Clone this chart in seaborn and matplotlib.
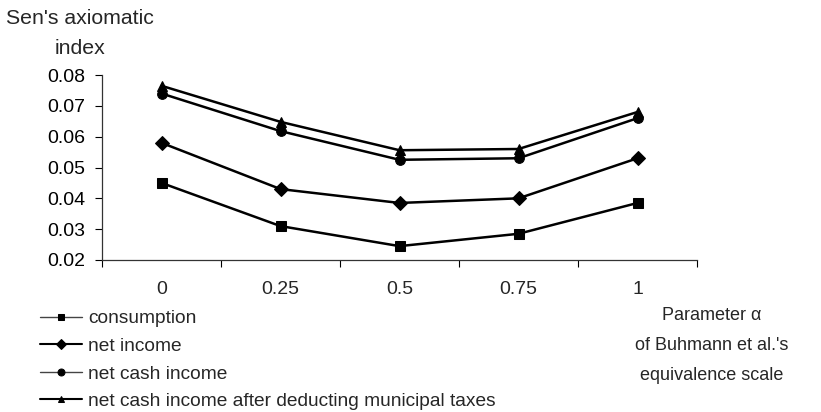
import numpy as np
import pandas as pd
import matplotlib
matplotlib.use("Agg")
import matplotlib.pyplot as plt
import seaborn as sns

# Parameter alpha of the equivalence scale (categorical x axis)
alpha_labels = ["0", "0.25", "0.5", "0.75", "1"]

# Sen's axiomatic index for each income concept
consumption = [0.045, 0.031, 0.0245, 0.0285, 0.0385]
net_income = [0.058, 0.043, 0.0385, 0.040, 0.053]
net_cash_income = [0.074, 0.0618, 0.0525, 0.053, 0.066]
net_cash_after_taxes = [0.0765, 0.0648, 0.0556, 0.056, 0.068]

series_names = [
    "consumption",
    "net income",
    "net cash income",
    "net cash income after deducting municipal taxes",
]
series_values = [consumption, net_income, net_cash_income, net_cash_after_taxes]

rows = []
for name, vals in zip(series_names, series_values):
    for pos, (lab, v) in enumerate(zip(alpha_labels, vals)):
        rows.append({"pos": pos, "alpha": lab, "series": name, "index": v})
df = pd.DataFrame(rows)

sns.set_theme(style="ticks")
plt.rcParams["font.family"] = ["Liberation Sans", "DejaVu Sans"]
TICK_FS = 14
LEG_FS = 13.8
TITLE_FS = 15.3
XLAB_FS = 13

fig = plt.figure(figsize=(8.21, 4.12), dpi=100)
ax = fig.add_axes([102 / 821, 1 - 260 / 412, (697 - 102) / 821, (260 - 75) / 412])

markers = {
    "consumption": "s",
    "net income": "D",
    "net cash income": "o",
    "net cash income after deducting municipal taxes": "^",
}
sns.lineplot(
    data=df, x="pos", y="index", hue="series", style="series",
    hue_order=series_names, style_order=series_names,
    palette=["black"] * 4, markers=markers, dashes=False,
    linewidth=1.8, markersize=7, markeredgecolor="black",
    ax=ax,
)

ax.set_xlim(-0.5, 4.5)
ax.set_ylim(0.02, 0.08)
ax.set_yticks(np.arange(0.02, 0.0801, 0.01))
ax.set_yticklabels([f"{t:.2f}" for t in np.arange(0.02, 0.0801, 0.01)], fontsize=TICK_FS)
ax.tick_params(axis="y", length=5, width=0.8, pad=7, colors="black")

# tick marks at category boundaries, labels at category centres
ax.set_xticks(np.arange(-0.5, 4.6, 1.0))
ax.set_xticklabels([])
ax.set_xticks(range(len(alpha_labels)), minor=True)
ax.set_xticklabels(alpha_labels, minor=True, fontsize=TICK_FS)
ax.tick_params(axis="x", which="major", length=5, width=0.8, colors="black")
ax.tick_params(axis="x", which="minor", length=0, pad=15)

ax.set_xlabel("")
ax.set_ylabel("")
for side in ("top", "right"):
    ax.spines[side].set_visible(False)
for side in ("left", "bottom"):
    ax.spines[side].set_linewidth(0.9)
    ax.spines[side].set_color("#333333")

handles, labels = ax.get_legend_handles_labels()
ax.legend_.remove()
for h, name in zip(handles, labels):
    h.set_markersize(5)
    if name in ("consumption", "net cash income"):
        h.set_linewidth(1.0)
        h.set_color("#444444")
        h.set_markeredgecolor("black")
        h.set_markerfacecolor("black")
    else:
        h.set_linewidth(1.5)
fig.legend(
    handles, labels, loc="upper left", bbox_to_anchor=(40 / 821, 1 - 310 / 412),
    frameon=False, fontsize=LEG_FS, handlelength=2.2, handletextpad=0.3,
    labelspacing=0.53, borderpad=0, borderaxespad=0,
)

fig.text(80 / 821, 1 - 18 / 412, "Sen's axiomatic", ha="center", va="center", fontsize=TITLE_FS)
fig.text(80 / 821, 1 - 48 / 412, "index", ha="center", va="center", fontsize=TITLE_FS)

fig.text(712 / 821, 1 - 316 / 412, "Parameter α", ha="center", va="center", fontsize=XLAB_FS)
fig.text(712 / 821, 1 - 346 / 412, "of Buhmann et al.'s", ha="center", va="center", fontsize=XLAB_FS)
fig.text(712 / 821, 1 - 375 / 412, "equivalence scale", ha="center", va="center", fontsize=XLAB_FS)

fig.savefig("out.png", dpi=100)
